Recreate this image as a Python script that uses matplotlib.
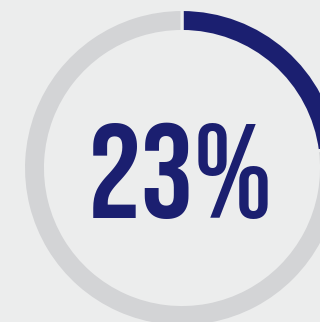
import matplotlib
matplotlib.use("Agg")
import matplotlib.pyplot as plt

# Share of the ring filled in, and the remainder
shares = [23, 77]
label = "23%"
ring_colors = ["#1b1f70", "#d3d4d6"]
bg = "#eceded"

W, H = 320, 322
fig = plt.figure(figsize=(W / 100, H / 100), dpi=100, facecolor=bg)
ax = fig.add_axes([0, 0, 1, 1])

cx, cy = 182, H - 168
r_out, ring_w = 158.5, 22

ax.pie(shares, colors=ring_colors, startangle=90, counterclock=False,
       radius=r_out, center=(cx, cy), frame=True,
       wedgeprops=dict(width=ring_w, edgecolor=bg, linewidth=2.2))
ax.set_xlim(0, W)
ax.set_ylim(0, H)
ax.set_aspect("equal")
ax.axis("off")

ax.text(180, H - 218, label, ha="center", va="baseline",
        family=["Bebas Neue", "Antonio", "DejaVu Sans"],
        fontsize=96, color="#1b1f70")

fig.savefig("out.png", dpi=100, facecolor=bg)
